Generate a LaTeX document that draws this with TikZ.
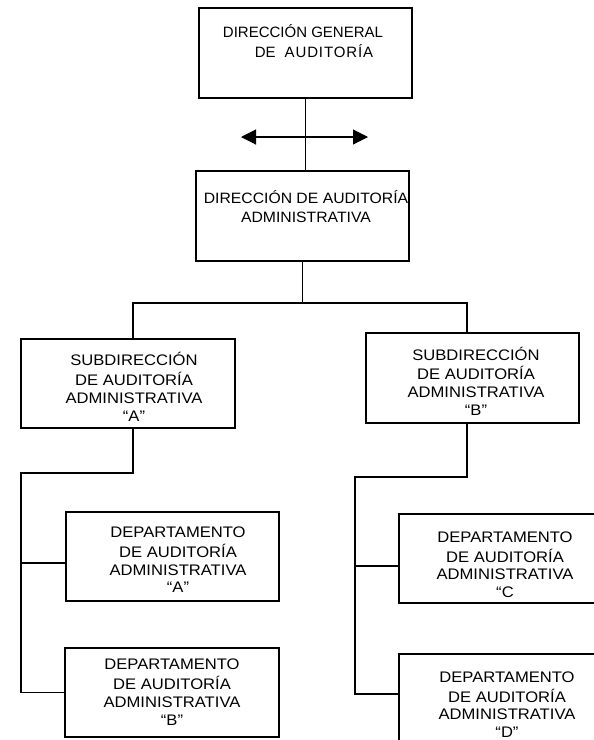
\documentclass[tikz,border=0pt]{standalone}
\usepackage{fontspec}
\setmainfont{Liberation Sans}
\newfontfamily\topfont{Liberation Sans}
\newfontfamily\widefont[LetterSpace=6]{Liberation Sans}
\newfontfamily\dirfont[FakeStretch=1.05]{Liberation Sans}
\newfontfamily\boxfont[FakeStretch=1.085]{Liberation Sans}
\usetikzlibrary{arrows.meta}
\begin{document}
\begin{tikzpicture}[x=1pt,y=-1pt,
  box/.style={draw, line width=1.1pt, inner sep=0pt, minimum width=213pt, minimum height=89pt},
  txt/.style={font=\boxfont\fontsize{15.3}{17.8}\selectfont, align=center, inner sep=0pt},
  conn/.style={line width=1.1pt},
  arr/.style={line width=1.1pt, {Triangle[length=15pt,width=15pt]}-{Triangle[length=15pt,width=15pt]}}]
\useasboundingbox (0,0) rectangle (594,740);
\clip (0,0) rectangle (594,740);
% boxes
\node[box, minimum height=90pt] (top) at (305.5,53) {};
\node[box, minimum height=90pt] (dir) at (302.5,216) {};
\node[box, minimum width=214pt] (subA) at (128,383.5) {};
\node[box, minimum height=90pt] (subB) at (472.5,378) {};
\node[box] (deptA) at (172.5,556.5) {};
\node[box, minimum width=214pt] (deptB) at (172,692.5) {};
\node[box] (deptC) at (505.5,558.5) {};
\node[box] (deptD) at (505.5,698.5) {};
% texts
\node[txt, font=\topfont\fontsize{15}{17.8}\selectfont] (ttop) at (303,43.6) {\strut DIRECCIÓN GENERAL\\\strut\hspace*{22pt}DE\hspace{9pt}{\widefont\fontsize{15}{17.8}\selectfont AUDITORÍA}};
\node[txt, font=\dirfont\fontsize{15}{19}\selectfont] (tdir) at (306,209) {\strut DIRECCIÓN DE AUDITORÍA\\\strut ADMINISTRATIVA};
\node[txt] (tsubA) at (134,389.5) {\strut SUBDIRECCIÓN\\\strut DE AUDITORÍA\\\strut ADMINISTRATIVA\\\strut “A”};
\node[txt] (tsubB) at (476,384) {\strut SUBDIRECCIÓN\\\strut DE AUDITORÍA\\\strut ADMINISTRATIVA\\\strut “B”};
\node[txt] (tdeptA) at (178,561.7) {\strut DEPARTAMENTO\\\strut DE AUDITORÍA\\\strut ADMINISTRATIVA\\\strut “A”};
\node[txt] (tdeptB) at (172,694) {\strut DEPARTAMENTO\\\strut DE AUDITORÍA\\\strut ADMINISTRATIVA\\\strut “B”};
\node[txt] (tdeptC) at (505,566.5) {\strut DEPARTAMENTO\\\strut DE AUDITORÍA\\\strut ADMINISTRATIVA\\\strut “C};
\node[txt] (tdeptD) at (507,706.5) {\strut DEPARTAMENTO\\\strut DE AUDITORÍA\\\strut ADMINISTRATIVA\\\strut “D”};
% connectors
\draw[conn] (top.south) -- (top.south |- dir.north);
\coordinate (al) at (241,137);
\coordinate (ar) at (368,137);
\draw[arr] (al) -- (ar);
\coordinate (ja) at (133,303);
\coordinate (jb) at (467,303);
\draw[conn] (dir.south) |- (ja) -- (ja |- subA.north);
\draw[conn] (dir.south) |- (jb) -- (jb |- subB.north);
\coordinate (la) at (21,473);
\draw[conn] (ja |- subA.south) |- (la) |- (deptB.west);
\coordinate (ka) at (21,563);
\draw[conn] (ka) -- (ka -| deptA.west);
\coordinate (lb) at (355,477);
\coordinate (kc) at (355,566);
\coordinate (kd) at (355,694);
\draw[conn] (jb |- subB.south) |- (lb) -- (kd) -- (kd -| deptD.west);
\draw[conn] (kc) -- (kc -| deptC.west);
\end{tikzpicture}
\end{document}
